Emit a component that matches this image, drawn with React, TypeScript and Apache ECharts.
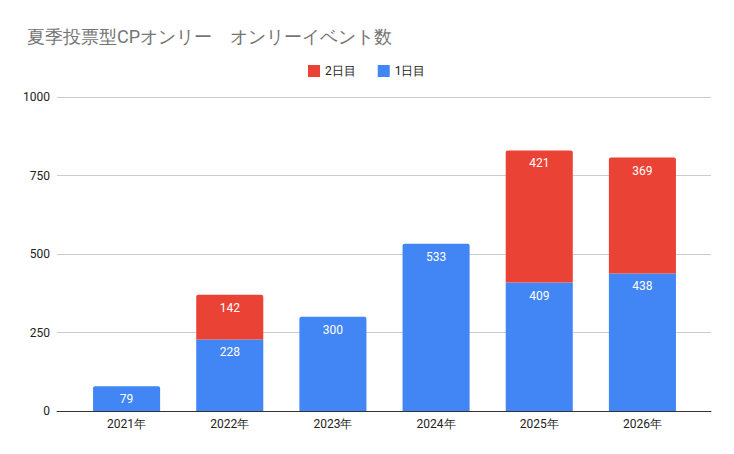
import React, { useEffect, useRef } from "react";
import * as echarts from "echarts";

const categories = ["2021年", "2022年", "2023年", "2024年", "2025年", "2026年"];
const day1 = [79, 228, 300, 533, 409, 438];
const day2: (number | null)[] = [null, 142, null, null, 421, 369];
const yTicks = { min: 0, max: 1000, interval: 250 };

export default function App() {
  const ref = useRef<HTMLDivElement>(null);
  useEffect(() => {
    if (!ref.current) return;
    const chart = echarts.init(ref.current, undefined, { renderer: "svg" });
    const font = "Roboto, Arial, sans-serif";
    const labelCfg = {
      show: true,
      position: "insideTop" as const,
      distance: 7,
      color: "#ffffff",
      fontSize: 12,
      fontFamily: font,
    };
    chart.setOption({
      animation: false,
      backgroundColor: "#ffffff",
      title: {
        text: "夏季投票型CPオンリー　オンリーイベント数",
        left: 22,
        top: 22,
        textStyle: { color: "#757575", fontSize: 18, fontWeight: "normal", fontFamily: font },
      },
      legend: {
        data: ["2日目", "1日目"],
        left: 303,
        top: 60,
        icon: "rect",
        itemWidth: 12,
        itemHeight: 12,
        itemGap: 22,
        textStyle: { color: "#222", fontSize: 12, fontFamily: font },
      },
      grid: [
        { left: 57, right: 23, top: 97, bottom: 43 },
        { left: 75, right: 40, top: 97, bottom: 43 },
      ],
      xAxis: [
        {
          type: "category",
          gridIndex: 0,
          data: categories,
          axisLine: { show: true, lineStyle: { color: "#333", width: 1 } },
          axisTick: { show: false },
          axisLabel: { show: false },
        },
        {
          type: "category",
          gridIndex: 1,
          data: categories,
          axisLine: { show: false },
          axisTick: { show: false },
          axisLabel: { color: "#222", fontSize: 12, fontFamily: font, margin: 7 },
        },
      ],
      yAxis: [
        {
          type: "value",
          gridIndex: 0,
          ...yTicks,
          axisLine: { show: false },
          axisTick: { show: false },
          axisLabel: {
            color: "#222",
            fontSize: 12,
            fontFamily: font,
            margin: 7,
            formatter: (v: number) => String(v),
          },
          splitLine: { lineStyle: { color: "#cccccc" } },
        },
        {
          type: "value",
          gridIndex: 1,
          ...yTicks,
          show: false,
          splitLine: { show: false },
        },
      ],
      series: [
        {
          name: "1日目",
          type: "bar",
          stack: "total",
          xAxisIndex: 1,
          yAxisIndex: 1,
          barWidth: "65%",
          itemStyle: { color: "#4285F4" },
          label: labelCfg,
          data: day1.map((v, i) => ({
            value: v,
            itemStyle: { borderRadius: day2[i] == null ? [2, 2, 0, 0] : 0 },
          })),
          z: 3,
        },
        {
          name: "2日目",
          type: "bar",
          stack: "total",
          xAxisIndex: 1,
          yAxisIndex: 1,
          barWidth: "65%",
          itemStyle: { color: "#EA4335", borderRadius: [2, 2, 0, 0] },
          label: labelCfg,
          data: day2.map((v) => (v == null ? "-" : v)),
          z: 3,
        },
      ],
    });
    return () => chart.dispose();
  }, []);
  return <div ref={ref} style={{ width: 734, height: 454, position: "absolute", left: 0, top: 0 }} />;
}
